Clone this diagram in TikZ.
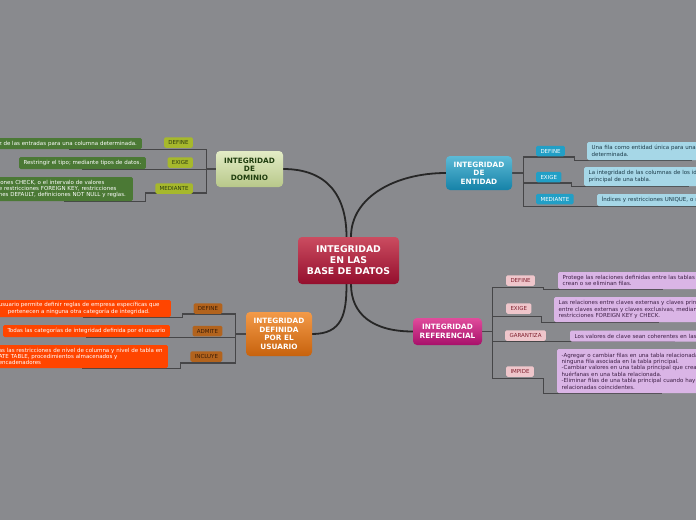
\documentclass[tikz,border=0pt]{standalone}
\usepackage{fontspec}
\setmainfont{DejaVu Sans}
\usetikzlibrary{backgrounds}
\definecolor{bg}{HTML}{898A8E}
\definecolor{treegray}{HTML}{464648}
\definecolor{hubline}{HTML}{262626}
\definecolor{cenT}{HTML}{CB4C60}
\definecolor{cenB}{HTML}{940E2D}
\definecolor{domT}{HTML}{E3ECC6}
\definecolor{domB}{HTML}{B8C88A}
\definecolor{domTxt}{HTML}{1F3D0E}
\definecolor{domTag}{HTML}{A6B82C}
\definecolor{domTagTxt}{HTML}{2A3A0E}
\definecolor{domBox}{HTML}{4B7935}
\definecolor{usrT}{HTML}{F39A48}
\definecolor{usrB}{HTML}{C7620D}
\definecolor{usrTag}{HTML}{B2631D}
\definecolor{usrTagTxt}{HTML}{3A1C06}
\definecolor{usrBox}{HTML}{FF4500}
\definecolor{entT}{HTML}{5CBAD6}
\definecolor{entB}{HTML}{1682A8}
\definecolor{entTag}{HTML}{229FC6}
\definecolor{entBox}{HTML}{A6D7E7}
\definecolor{entBoxTxt}{HTML}{1B3A48}
\definecolor{refT}{HTML}{E04C9C}
\definecolor{refB}{HTML}{A8106A}
\definecolor{refTag}{HTML}{EFC6CB}
\definecolor{refTagTxt}{HTML}{7E1F2D}
\definecolor{refBox}{HTML}{DAB5E6}
\definecolor{refBoxTxt}{HTML}{3D1F45}
\newcommand\smallfnt{\fontsize{5.5}{6.4}\selectfont}
\tikzset{
  mainnode/.style={rectangle, rounded corners=4pt, align=center, inner sep=0pt,
    font=\bfseries\fontsize{7.3}{8.5}\selectfont},
  tree/.style={draw=treegray, line width=1.1pt},
  hub/.style={draw=hubline, line width=1.8pt},
  lbox/.style={anchor=east, align=left, inner xsep=3.5pt, inner ysep=0pt,
    rounded corners=1.5pt, font=\smallfnt},
  cbox/.style={anchor=east, align=center, inner xsep=4.5pt, inner ysep=0pt,
    rounded corners=1.5pt, font=\smallfnt},
  rbox/.style={anchor=west, align=left, text width=200pt, inner xsep=4.5pt, inner ysep=0pt,
    rounded corners=1.5pt, font=\smallfnt},
  tag/.style={rounded corners=1.5pt, inner xsep=4.3pt, inner ysep=0pt,
    minimum height=10.5pt, font=\smallfnt},
}
\begin{document}
\begin{tikzpicture}[x=1pt,y=-1pt]
\useasboundingbox (0,0) rectangle (696,520);
\clip (0,0) rectangle (696,520);

% ---- main nodes
\node[mainnode, minimum width=101pt, minimum height=47pt, top color=cenT, bottom color=cenB,
  text=white, font=\bfseries\fontsize{9.3}{11}\selectfont] (cen) at (348.5,260.5)
  {INTEGRIDAD\\EN LAS\\BASE DE DATOS};
\node[mainnode, minimum width=67pt, minimum height=36pt, top color=domT, bottom color=domB,
  text=domTxt] (dom) at (249.5,169) {INTEGRIDAD\\DE\\DOMINIO};
\node[mainnode, minimum width=66pt, minimum height=44pt, top color=usrT, bottom color=usrB,
  text=white] (usr) at (279,334) {INTEGRIDAD\\DEFINIDA\\POR EL\\USUARIO};
\node[mainnode, minimum width=66pt, minimum height=34pt, top color=entT, bottom color=entB,
  text=white] (ent) at (479,173) {INTEGRIDAD\\DE\\ENTIDAD};
\node[mainnode, minimum width=69pt, minimum height=27pt, top color=refT, bottom color=refB,
  text=white, font=\bfseries\fontsize{7.3}{9}\selectfont] (ref) at (447.5,331.5)
  {INTEGRIDAD\\REFERENCIAL};

% ---- dominio
\node[tag, anchor=east, fill=domTag, text=domTagTxt] (dDt) at (193,142.5) {DEFINE};
\node[tag, anchor=east, fill=domTag, text=domTagTxt] (dEt) at (193,162.5) {EXIGE};
\node[tag, anchor=east, fill=domTag, text=domTagTxt] (dMt) at (193,188.5) {MEDIANTE};
\node[lbox, fill=domBox, text=white, text width=139.5pt, minimum height=11pt] (dD) at (142,143.5)
  {\mbox{z de las entradas para una columna determinada.}};
\node[cbox, fill=domBox, text=white, minimum height=12pt] (dE) at (146,163)
  {Restringir el tipo; mediante tipos de datos.};
\node[lbox, fill=domBox, text=white, text width=130.5pt, minimum height=24pt] (dM) at (133,189)
  {\mbox{iones CHECK, o el intervalo de valores}\\
   \mbox{e restricciones FOREIGN KEY, restricciones}\\
   \mbox{nes DEFAULT, definiciones NOT NULL y reglas.}};

% ---- usuario
\node[tag, anchor=east, fill=usrTag, text=usrTagTxt] (uDt) at (222.5,308.5) {DEFINE};
\node[tag, anchor=east, fill=usrTag, text=usrTagTxt] (uAt) at (222.5,331) {ADMITE};
\node[tag, anchor=east, fill=usrTag, text=usrTagTxt] (uIt) at (222.5,356.5) {INCLUYE};
\node[lbox, fill=usrBox, text=white, text width=168.5pt, minimum height=17pt] (uD) at (171,308.5)
  {\mbox{usuario permite definir reglas de empresa específicas que}\\
   \mbox{\hspace*{9pt}pertenecen a ninguna otra categoría de integridad.}};
\node[cbox, fill=usrBox, text=white, minimum height=12pt] (uA) at (170,331)
  {Todas las categorías de integridad definida por el usuario};
\node[lbox, fill=usrBox, text=white, text width=165.5pt, minimum height=23pt] (uI) at (168,356.5)
  {\mbox{as las restricciones de nivel de columna y nivel de tabla en}\\
   \mbox{ATE TABLE, procedimientos almacenados y}\\
   \mbox{encadenadores}};

% ---- entidad
\node[tag, anchor=west, fill=entTag, text=white] (eDt) at (536,151) {DEFINE};
\node[tag, anchor=west, fill=entTag, text=white] (eEt) at (536,177) {EXIGE};
\node[tag, anchor=west, fill=entTag, text=white] (eMt) at (536,199) {MEDIANTE};
\node[rbox, fill=entBox, text=entBoxTxt, minimum height=18pt] (eD) at (587,151)
  {Una fila como entidad única para una tabla\\determinada.};
\node[rbox, fill=entBox, text=entBoxTxt, minimum height=19pt] (eE) at (584,176.5)
  {La integridad de las columnas de los identificadores\\principal de una tabla.};
\node[rbox, fill=entBox, text=entBoxTxt, minimum height=12pt] (eM) at (597,200)
  {Índices y restricciones UNIQUE, o restricciones};

% ---- referencial
\node[tag, anchor=west, fill=refTag, text=refTagTxt] (rDt) at (506,280.5) {DEFINE};
\node[tag, anchor=west, fill=refTag, text=refTagTxt] (rEt) at (506,308.5) {EXIGE};
\node[tag, anchor=west, fill=refTag, text=refTagTxt] (rGt) at (505,335.5) {GARANTIZA};
\node[tag, anchor=west, fill=refTag, text=refTagTxt] (rIt) at (506,371.5) {IMPIDE};
\node[rbox, fill=refBox, text=refBoxTxt, minimum height=17pt] (rD) at (558,280.5)
  {Protege las relaciones definidas entre las tablas cuando se\\crean o se eliminan filas.};
\node[rbox, fill=refBox, text=refBoxTxt, minimum height=25pt] (rE) at (554,309.5)
  {Las relaciones entre claves externas y claves principales o\\
   entre claves externas y claves exclusivas, mediante\\
   restricciones FOREIGN KEY y CHECK.};
\node[rbox, fill=refBox, text=refBoxTxt, minimum height=11pt] (rG) at (570,336)
  {Los valores de clave sean coherentes en las tablas.};
\node[rbox, fill=refBox, text=refBoxTxt, minimum height=44pt] (rI) at (557,371)
  {-Agregar o cambiar filas en una tabla relacionada si no hay\\
   ninguna fila asociada en la tabla principal.\\
   -Cambiar valores en una tabla principal que crean filas\\
   huérfanas en una tabla relacionada.\\
   -Eliminar filas de una tabla principal cuando hay filas\\
   relacionadas coincidentes.};

\begin{scope}[on background layer]
  \fill[bg] (0,0) rectangle (696,520);
  % hub curves
  \draw[hub] ([xshift=-2pt]cen.north) .. controls +(0,-40) and +(45,0) .. (dom.east);
  \draw[hub] ([xshift=2.5pt]cen.north) .. controls +(0,-40) and +(-50,0) .. (ent.west);
  \draw[hub] ([xshift=-2pt]cen.south) .. controls +(0,30) and +(30,0) .. (usr.east);
  \draw[hub] ([xshift=2.5pt]cen.south) .. controls +(0,30) and +(-40,0) .. (ref.west);
  % dominio tree
  \draw[tree] (dom.west) -- ++(-9.5,0) coordinate (dj);
  \draw[tree] (dj) |- (dD.south);
  \draw[tree] (dj) |- (dE.south);
  \draw[tree] (dj) |- ++(-61,24) |- (dM.south);
  % usuario tree
  \draw[tree] (usr.west) -- ++(-10,0) coordinate (uj);
  \draw[tree] (uj) |- ++(-53,-20) |- (uD.south);
  \draw[tree] (uj) |- (uA.south);
  \draw[tree] (uj) |- ++(-55,29) |- (uI.south);
  % entidad tree
  \draw[tree] (ent.east) -- ++(11,0) coordinate (ej);
  \draw[tree] (ej) |- ++(51,-16) |- (eD.south);
  \draw[tree] (ej) |- ++(48,10) |- (eE.south);
  \draw[tree] (ej) |- (eM.south);
  % referencial tree
  \draw[tree] (ref.east) -- ++(10.5,0) coordinate (rj);
  \draw[tree] (rj) |- ++(51,-44) |- (rD.south);
  \draw[tree] (rj) |- ++(49,-15) |- (rE.south);
  \draw[tree] (rj) |- (rG.south);
  \draw[tree] (rj) |- ++(51,47) |- (rI.south);
\end{scope}
\end{tikzpicture}
\end{document}
